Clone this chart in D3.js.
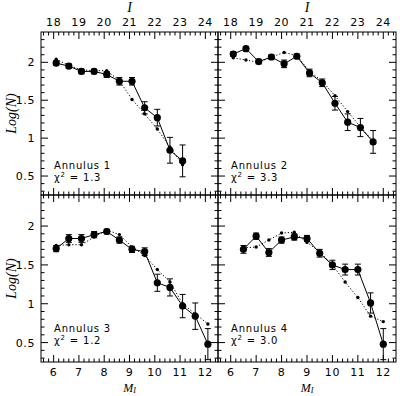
<!DOCTYPE html>
<html>
<head>
<meta charset="utf-8">
<script src="https://cdn.jsdelivr.net/npm/d3@7"></script>
<style>
body { margin: 0; background: #fff; }
svg { display: block; }
.tick-label { font-family: "DejaVu Sans", sans-serif; font-size: 11px; fill: #000; letter-spacing: 0.6px; }
.title { font-family: "Liberation Serif", serif; font-style: italic; font-size: 14px; fill: #000; }
.note { font-family: "DejaVu Sans", sans-serif; font-size: 10px; fill: #000; letter-spacing: 0.8px; }
</style>
</head>
<body>
<svg id="chart" width="400" height="396"></svg>
<script>
// M_I of each bin, observed Log(N), error, model (dotted) per annulus
const m1 = [6.1, 6.6, 7.1, 7.6, 8.1, 8.6, 9.1, 9.6, 10.1, 10.6, 11.1];
const obs1 = [1.99, 1.95, 1.88, 1.88, 1.84, 1.75, 1.75, 1.40, 1.27, 0.84, 0.70];
const err1 = [0.03, 0.03, 0.03, 0.03, 0.04, 0.05, 0.05, 0.08, 0.11, 0.17, 0.21];
const mod1 = [2.04, 1.96, 1.90, 1.89, 1.89, 1.76, 1.51, 1.32, 1.12, 0.88, 0.65];

const m2 = [6.1, 6.6, 7.1, 7.6, 8.1, 8.6, 9.1, 9.6, 10.1, 10.6, 11.1, 11.6];
const obs2 = [2.11, 2.18, 2.01, 2.07, 1.98, 2.08, 1.86, 1.73, 1.46, 1.21, 1.14, 0.95];
const err2 = [0.03, 0.03, 0.03, 0.03, 0.05, 0.03, 0.05, 0.05, 0.09, 0.11, 0.12, 0.15];
const mod2 = [2.06, 2.03, 2.00, 2.07, 2.13, 2.09, 1.88, 1.75, 1.56, 1.35, 1.15, 0.96];

const m3 = [6.1, 6.6, 7.1, 7.6, 8.1, 8.6, 9.1, 9.6, 10.1, 10.6, 11.1, 11.6, 12.1];
const obs3 = [1.71, 1.84, 1.84, 1.89, 1.93, 1.82, 1.70, 1.67, 1.27, 1.21, 0.97, 0.84, 0.48];
const err3 = [0.04, 0.05, 0.05, 0.04, 0.03, 0.04, 0.04, 0.05, 0.11, 0.11, 0.15, 0.17, 0.20];
const mod3 = [1.75, 1.76, 1.76, 1.86, 1.95, 1.89, 1.73, 1.62, 1.44, 1.28, 1.00, 0.87, 0.74];

const m4 = [6.5, 7.0, 7.5, 8.0, 8.5, 9.0, 9.5, 10.0, 10.5, 11.0, 11.5, 12.0];
const obs4 = [1.70, 1.87, 1.66, 1.82, 1.86, 1.84, 1.65, 1.50, 1.44, 1.44, 1.01, 0.48];
const err4 = [0.05, 0.04, 0.05, 0.04, 0.04, 0.04, 0.05, 0.06, 0.07, 0.07, 0.13, 0.20];
const mod4 = [1.72, 1.73, 1.82, 1.91, 1.92, 1.79, 1.67, 1.50, 1.28, 1.08, 0.84, 0.77];

const annuli = ['Annulus 1', 'Annulus 2', 'Annulus 3', 'Annulus 4'];
const chi2 = ['1.3', '3.3', '1.2', '3.0'];

const xTicks = [6, 7, 8, 9, 10, 11, 12];
const iTicks = [18, 19, 20, 21, 22, 23, 24];
const yTicks = [0.5, 1, 1.5, 2];

const svg = d3.select('#chart');

const cols = [[41, 218], [218, 396]];
const rows = [[32, 195], [195, 362]];

const series = [
	{m: m1, obs: obs1, err: err1, mod: mod1},
	{m: m2, obs: obs2, err: err2, mod: mod2},
	{m: m3, obs: obs3, err: err3, mod: mod3},
	{m: m4, obs: obs4, err: err4, mod: mod4}
];

function range(a, b, step) {
	let out = [];
	for (let v = a; v <= b + 1e-9; v += step) out.push(+v.toFixed(2));
	return out;
}

series.forEach(function(s, i) {
	let c = cols[i % 2], r = rows[Math.floor(i / 2)];
	let x = d3.scaleLinear().domain([5.5, 12.5]).range(c);
	let xi = d3.scaleLinear().domain([17.5, 24.5]).range(c);
	let y = d3.scaleLinear().domain([0.25, 2.4]).range([r[1], r[0]]);
	let g = svg.append('g');

	// frame
	g.append('rect')
		.attr('x', c[0]).attr('y', r[0])
		.attr('width', c[1] - c[0]).attr('height', r[1] - r[0])
		.attr('fill', 'none').attr('stroke', '#000').attr('stroke-width', 1);

	// ticks, all inward
	let xMinor = range(5.6, 12.4, 0.2);
	let yMinor = range(0.3, 2.3, 0.1);
	xMinor.forEach(function(v) {
		let major = Math.abs(v - Math.round(v)) < 1e-6;
		let len = major ? 7 : 3.5;
		g.append('line').attr('x1', x(v)).attr('x2', x(v)).attr('y1', r[1]).attr('y2', r[1] - len).attr('stroke', '#000');
		g.append('line').attr('x1', x(v)).attr('x2', x(v)).attr('y1', r[0]).attr('y2', r[0] + len).attr('stroke', '#000');
	});
	yMinor.forEach(function(v) {
		let major = Math.abs(v * 2 - Math.round(v * 2)) < 1e-6;
		let len = major ? 7 : 3.5;
		g.append('line').attr('y1', y(v)).attr('y2', y(v)).attr('x1', c[0]).attr('x2', c[0] + len).attr('stroke', '#000');
		g.append('line').attr('y1', y(v)).attr('y2', y(v)).attr('x1', c[1]).attr('x2', c[1] - len).attr('stroke', '#000');
	});

	// tick labels
	if (i % 2 == 0) {
		g.selectAll('text.yl').data(yTicks).enter().append('text')
			.attr('class', 'tick-label')
			.attr('x', c[0] - 6).attr('y', function(d) { return y(d) + 4; })
			.attr('text-anchor', 'end')
			.text(function(d) { return d; });
		g.append('text').attr('class', 'title')
			.attr('transform', 'translate(16,' + ((r[0] + r[1]) / 2) + ') rotate(-90)')
			.attr('text-anchor', 'middle')
			.text('Log(N)');
	}
	if (i < 2) {
		g.selectAll('text.il').data(iTicks).enter().append('text')
			.attr('class', 'tick-label')
			.attr('x', function(d) { return xi(d); }).attr('y', r[0] - 6)
			.attr('text-anchor', 'middle')
			.text(function(d) { return d; });
		g.append('text').attr('class', 'title')
			.attr('x', (c[0] + c[1]) / 2).attr('y', 12)
			.attr('text-anchor', 'middle')
			.text('I');
	} else {
		g.selectAll('text.ml').data(xTicks).enter().append('text')
			.attr('class', 'tick-label')
			.attr('x', function(d) { return x(d); }).attr('y', r[1] + 14)
			.attr('text-anchor', 'middle')
			.text(function(d) { return d; });
		let t = g.append('text').attr('class', 'title')
			.attr('x', (c[0] + c[1]) / 2).attr('y', r[1] + 29.5)
			.style('font-size', '12px')
			.attr('text-anchor', 'middle');
		t.append('tspan').text('M');
		t.append('tspan').style('font-size', '8px').attr('dy', 1.5).text('I');
	}

	let pts = s.m.map(function(m, k) { return {m: m, o: s.obs[k], e: s.err[k], d: s.mod[k]}; });

	// model, dotted
	g.append('path')
		.datum(pts)
		.attr('d', d3.line().x(function(d) { return x(d.m); }).y(function(d) { return y(d.d); }))
		.attr('fill', 'none').attr('stroke', '#000').attr('stroke-width', 1)
		.attr('stroke-dasharray', '1.2,2');
	g.selectAll('circle.mod').data(pts).enter().append('circle')
		.attr('cx', function(d) { return x(d.m); }).attr('cy', function(d) { return y(d.d); })
		.attr('r', 1.7).attr('fill', '#000');

	// observed, solid with error bars
	g.append('path')
		.datum(pts)
		.attr('d', d3.line().x(function(d) { return x(d.m); }).y(function(d) { return y(d.o); }))
		.attr('fill', 'none').attr('stroke', '#000').attr('stroke-width', 1);
	let eb = g.selectAll('g.eb').data(pts).enter().append('g');
	eb.append('line')
		.attr('x1', function(d) { return x(d.m); }).attr('x2', function(d) { return x(d.m); })
		.attr('y1', function(d) { return y(d.o - d.e); }).attr('y2', function(d) { return y(d.o + d.e); })
		.attr('stroke', '#000');
	[-1, 1].forEach(function(sgn) {
		eb.append('line')
			.attr('x1', function(d) { return x(d.m) - 3; }).attr('x2', function(d) { return x(d.m) + 3; })
			.attr('y1', function(d) { return y(d.o + sgn * d.e); }).attr('y2', function(d) { return y(d.o + sgn * d.e); })
			.attr('stroke', '#000');
	});
	g.selectAll('circle.obs').data(pts).enter().append('circle')
		.attr('cx', function(d) { return x(d.m); }).attr('cy', function(d) { return y(d.o); })
		.attr('r', 3.6).attr('fill', '#000');

	// labels
	g.append('text').attr('class', 'note')
		.attr('x', c[0] + 13).attr('y', r[0] + 137)
		.text(annuli[i]);
	let ct = g.append('text').attr('class', 'note')
		.attr('x', c[0] + 13).attr('y', r[0] + 149);
	ct.append('tspan').text('χ');
	ct.append('tspan').attr('font-size', '7px').attr('dy', -4).text('2');
	ct.append('tspan').attr('dy', 4).text(' = ' + chi2[i]);
});
</script>
</body>
</html>
